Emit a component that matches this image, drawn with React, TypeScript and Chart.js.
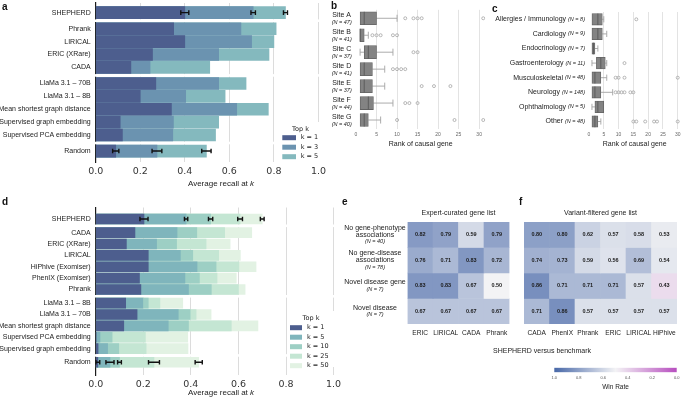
import React, { useEffect, useRef } from 'react';
import { Chart, registerables } from 'chart.js';

Chart.register(...registerables);

const SANS = '"Liberation Sans", Arial, Helvetica, sans-serif';
const DEJA = '"DejaVu Sans", Verdana, sans-serif';
const INK = '#222222';

// ---------------- panel a ----------------
const methodsA = [
  'SHEPHERD', 'Phrank', 'LIRICAL', 'ERIC (XRare)', 'CADA',
  'LlaMa 3.1 – 70B', 'LlaMa 3.1 – 8B', 'Mean shortest graph distance',
  'Supervised graph embedding', 'Supervised PCA embedding', 'Random',
];
const groupsA = [0, 1, 1, 1, 1, 2, 2, 2, 2, 2, 3];
const topKA = ['k = 1', 'k = 3', 'k = 5'];
const recallA1 = [0.40, 0.35, 0.40, 0.255, 0.158, 0.27, 0.20, 0.34, 0.11, 0.12, 0.09];
const recallA3 = [0.707, 0.652, 0.70, 0.552, 0.244, 0.552, 0.404, 0.633, 0.349, 0.346, 0.275];
const recallA5 = [0.852, 0.81, 0.80, 0.778, 0.512, 0.675, 0.581, 0.775, 0.552, 0.538, 0.497];
const errShepherdA = [0.018, 0.01, 0.009];
const errRandomA = [0.014, 0.022, 0.021];
const colorsA = ['#4d5e8e', '#6b93b0', '#84b9be'];

// ---------------- panel d ----------------
const methodsD = [
  'SHEPHERD', 'CADA', 'ERIC (XRare)', 'LIRICAL', 'HiPhive (Exomiser)', 'PhenIX (Exomiser)', 'Phrank',
  'LlaMa 3.1 – 8B', 'LlaMa 3.1 – 70B', 'Mean shortest graph distance',
  'Supervised PCA embedding', 'Supervised graph embedding', 'Random',
];
const groupsD = [0, 1, 1, 1, 1, 1, 1, 2, 2, 2, 2, 2, 3];
const topKD = ['k = 1', 'k = 5', 'k = 10', 'k = 25', 'k = 50'];
const recallD1 = [0.203, 0.165, 0.129, 0.221, 0.221, 0.184, 0.19, 0.126, 0.174, 0.118, 0.002, 0.01, 0.009];
const recallD5 = [0.38, 0.342, 0.256, 0.356, 0.426, 0.375, 0.39, 0.198, 0.347, 0.305, 0.018, 0.05, 0.06];
const recallD10 = [0.483, 0.425, 0.34, 0.408, 0.506, 0.436, 0.486, 0.221, 0.397, 0.39, 0.069, 0.097, 0.10];
const recallD25 = [0.607, 0.542, 0.464, 0.517, 0.602, 0.51, 0.60, 0.27, 0.422, 0.57, 0.209, 0.212, 0.245];
const recallD50 = [0.70, 0.656, 0.565, 0.608, 0.674, 0.591, 0.628, 0.366, 0.485, 0.682, 0.387, 0.388, 0.433];
const errShepherdD = [0.017, 0.007, 0.009, 0.01, 0.008];
const errRandomD = [0.008, 0.017, 0.008, 0.023, 0.015];
const colorsD = ['#4d5e8e', '#7fb5bc', '#9dcfc4', '#c4e6d3', '#e2f2e3'];

// ---------------- panel b ----------------
const sites = ['Site A', 'Site B', 'Site C', 'Site D', 'Site E', 'Site F', 'Site G'];
const siteN = [47, 41, 37, 41, 37, 44, 40];
const siteQ1 = [1, 1, 2, 1, 1, 1, 1];
const siteMed = [2, 1, 3, 2, 2, 3, 2];
const siteQ3 = [5, 2, 5, 4, 4, 4.25, 3];
const siteLo = [1, 1, 1, 1, 1, 1, 1];
const siteHi = [10, 3, 9, 7, 7, 9, 6];
const siteOut = [[12, 14, 15, 16, 31], [4, 5, 6, 9, 10], [14, 15], [9, 10, 11, 12], [16, 19, 23], [12, 13, 15], [10, 24, 31]];

// ---------------- panel c ----------------
const specialties = ['Allergies / Immunology', 'Cardiology', 'Endocrinology', 'Gastroenterology', 'Musculoskeletal', 'Neurology', 'Ophthalmology', 'Other'];
const specN = [8, 9, 7, 11, 48, 148, 5, 48];
const specQ1 = [1, 1, 1, 2.5, 1, 1, 2, 1];
const specMed = [3, 3, 1.5, 4, 2, 2, 3, 2];
const specQ3 = [4.5, 4.5, 2, 5.5, 4, 4, 5, 3];
const specLo = [1, 1, 1, 1, 1, 1, 1, 1];
const specHi = [5, 6, 3, 6, 6, 8, 5, 4];
const specOut = [[16], [], [], [12], [9, 10, 12, 30], [9, 10, 11, 12, 14, 15], [], [15, 16, 19, 22, 23, 30]];

// ---------------- panels e, f ----------------
const heatRowLines = [['No gene-phenotype', 'associations'], ['No gene-disease', 'associations'], ['Novel disease gene'], ['Novel disease']];
const heatRowN = [40, 78, 7, 7];
const colsE = ['ERIC', 'LIRICAL', 'CADA', 'Phrank'];
const winE = [
  [0.82, 0.79, 0.59, 0.79],
  [0.76, 0.71, 0.83, 0.72],
  [0.83, 0.83, 0.67, 0.50],
  [0.67, 0.67, 0.67, 0.67],
];
const colsF = ['CADA', 'PhenIX', 'Phrank', 'ERIC', 'LIRICAL', 'HiPhive'];
const winF = [
  [0.80, 0.80, 0.62, 0.57, 0.58, 0.53],
  [0.74, 0.73, 0.59, 0.56, 0.69, 0.54],
  [0.86, 0.71, 0.71, 0.71, 0.57, 0.43],
  [0.71, 0.86, 0.57, 0.57, 0.57, 0.57],
];
const winRateRange = [0, 1];

// ---------------- helpers ----------------
const WIN_HI = [72, 104, 168];
const WIN_MID = [243, 243, 245];
const WIN_LO = [183, 78, 191];
const rgb = (c: number[]) => `rgb(${c[0]},${c[1]},${c[2]})`;
function mix(a: number[], b: number[], t: number) {
  return rgb([0, 1, 2].map((i) => Math.round(a[i] + (b[i] - a[i]) * t)));
}
function winColor(v: number) {
  return v >= 0.5 ? mix(WIN_MID, WIN_HI, (v - 0.5) / 0.5) : mix(WIN_MID, WIN_LO, (0.5 - v) / 0.5);
}

type Part = { t: string; f: string };
function drawRich(ctx: CanvasRenderingContext2D, parts: Part[], x: number, y: number, align: 'left' | 'center' | 'right') {
  let total = 0;
  const ws = parts.map((p) => {
    ctx.font = p.f;
    const w = ctx.measureText(p.t).width;
    total += w;
    return w;
  });
  let cx = align === 'center' ? x - total / 2 : align === 'right' ? x - total : x;
  ctx.textAlign = 'left';
  ctx.textBaseline = 'middle';
  parts.forEach((p, i) => {
    ctx.font = p.f;
    ctx.fillText(p.t, cx, y);
    cx += ws[i];
  });
}
const f = (size: number, style = 'normal', weight = 'normal', fam = SANS) => `${style} ${weight} ${size}px ${fam}`;

// ---------------- recall charts (a, d) ----------------
function recallChart(canvas: HTMLCanvasElement, c: any) {
  const pos: number[] = c.groups.map((g: number, i: number) => i + g * c.gap);
  const bounds: number[] = [];
  for (let i = 1; i < pos.length; i++) if (c.groups[i] !== c.groups[i - 1]) bounds.push((pos[i] + pos[i - 1]) / 2);
  const datasets = c.series.map((vals: number[], k: number) => ({
    label: c.seriesLabels[k],
    data: vals.map((v: number, i: number) => ({ x: v, y: pos[i] })),
    backgroundColor: c.colors[k],
    borderWidth: 0,
    barThickness: c.barThickness,
    grouped: false,
  }));
  const extras = {
    id: 'recallExtras',
    beforeDatasetsDraw(chart: any) {
      const { ctx, chartArea: ca, scales } = chart;
      ctx.save();
      ctx.fillStyle = '#ffffff';
      bounds.forEach((b) => {
        const py = scales.y.getPixelForValue(b);
        ctx.fillRect(ca.left - 3, py - 1.3, ca.right - ca.left + 4, 2.6);
      });
      ctx.restore();
    },
    afterDatasetsDraw(chart: any) {
      const { ctx, chartArea: ca, scales } = chart;
      const x = scales.x, y = scales.y;
      ctx.save();
      ctx.strokeStyle = '#111111';
      ctx.lineWidth = 1.4;
      c.errRows.forEach((er: any) => {
        const py = y.getPixelForValue(pos[er.row]);
        c.series.forEach((s: number[], k: number) => {
          const v = s[er.row];
          const e = er.err[k];
          const x0 = x.getPixelForValue(v - e);
          const x1 = x.getPixelForValue(v + e);
          ctx.beginPath();
          ctx.moveTo(x0, py); ctx.lineTo(x1, py);
          ctx.moveTo(x0, py - 2.3); ctx.lineTo(x0, py + 2.3);
          ctx.moveTo(x1, py - 2.3); ctx.lineTo(x1, py + 2.3);
          ctx.stroke();
        });
      });
      // category labels
      ctx.fillStyle = INK;
      ctx.font = f(7);
      ctx.textAlign = 'right';
      ctx.textBaseline = 'middle';
      c.methods.forEach((m: string, i: number) => ctx.fillText(m, ca.left - 5, y.getPixelForValue(pos[i])));
      // axis title
      ctx.fillStyle = INK;
      drawRich(ctx, [{ t: 'Average recall at ', f: f(8) }, { t: 'k', f: f(8, 'italic') }], c.titleX, c.titleY, 'center');
      // legend
      const L = c.legend;
      ctx.fillStyle = '#ffffff';
      ctx.fillRect(L.box[0], L.box[1], L.box[2], L.box[3]);
      ctx.fillStyle = INK;
      ctx.font = f(6.5, 'normal', 'normal', DEJA);
      ctx.textAlign = 'center';
      ctx.fillText('Top k', L.titleX, L.titleY);
      c.seriesLabels.forEach((lab: string, k: number) => {
        const yy = L.y0 + k * L.dy;
        ctx.fillStyle = c.colors[k];
        ctx.fillRect(L.swX, yy - L.swH / 2, L.swW, L.swH);
        ctx.fillStyle = INK;
        ctx.textAlign = 'left';
        ctx.fillText(lab, L.textX, yy);
      });
      ctx.restore();
    },
  };
  return new Chart(canvas, {
    type: 'bar',
    data: { datasets },
    options: {
      indexAxis: 'y',
      animation: false,
      responsive: false,
      maintainAspectRatio: false,
      events: [],
      layout: { padding: { left: 0, top: c.padTop, right: c.padRight, bottom: 0 } },
      plugins: { legend: { display: false }, tooltip: { enabled: false } },
      scales: {
        x: {
          type: 'linear', min: 0, max: 1, offset: false, position: 'bottom',
          ticks: { stepSize: 0.2, padding: c.tickPad, color: '#333333', font: { family: DEJA, size: 9.5 }, callback: (v: any) => Number(v).toFixed(1) },
          grid: { color: (ctx: any) => (ctx.tick && ctx.tick.value === 0 ? 'rgba(0,0,0,0)' : '#dcdcdc'), lineWidth: 1, drawTicks: false, offset: false },
          border: { display: false },
          afterFit: (s: any) => { s.height = c.height - c.chartBottom; },
        },
        y: {
          type: 'linear', min: c.yMin, max: c.yMax, reverse: true, offset: false,
          ticks: { display: false },
          grid: { display: false, drawTicks: false, offset: false },
          border: { display: true, color: '#1b1b1b', width: 1.2 },
          afterFit: (s: any) => { s.width = c.yWidth; },
        },
      },
    } as any,
    plugins: [extras as any],
  });
}

// ---------------- box charts (b, c) ----------------
function boxChart(canvas: HTMLCanvasElement, c: any) {
  const half = c.thickness / 2;
  const extras = {
    id: 'boxExtras',
    beforeDatasetsDraw(chart: any) {
      const { ctx, scales } = chart;
      const x = scales.x, y = scales.y;
      ctx.save();
      ctx.strokeStyle = '#a3a3a3';
      ctx.lineWidth = 0.9;
      c.names.forEach((_n: string, i: number) => {
        const py = y.getPixelForValue(i);
        const cap = c.thickness * 0.27;
        const seg = (a: number, b: number, capAt: number) => {
          ctx.beginPath();
          ctx.moveTo(x.getPixelForValue(a), py); ctx.lineTo(x.getPixelForValue(b), py);
          const cx = x.getPixelForValue(capAt);
          ctx.moveTo(cx, py - cap); ctx.lineTo(cx, py + cap);
          ctx.stroke();
        };
        if (c.lo[i] < c.q1[i]) seg(c.lo[i], c.q1[i], c.lo[i]);
        if (c.hi[i] > c.q3[i]) seg(c.q3[i], c.hi[i], c.hi[i]);
      });
      ctx.restore();
    },
    afterDatasetsDraw(chart: any) {
      const { ctx, scales } = chart;
      const x = scales.x, y = scales.y;
      ctx.save();
      ctx.strokeStyle = '#5c5c5c';
      ctx.lineWidth = 1;
      c.names.forEach((_n: string, i: number) => {
        const py = y.getPixelForValue(i);
        const mx = x.getPixelForValue(c.med[i]);
        ctx.beginPath(); ctx.moveTo(mx, py - half); ctx.lineTo(mx, py + half); ctx.stroke();
      });
      ctx.restore();
    },
    afterDraw(chart: any) {
      const { ctx, chartArea: ca, scales } = chart;
      const y = scales.y;
      ctx.save();
      ctx.fillStyle = INK;
      c.names.forEach((n: string, i: number) => {
        const py = y.getPixelForValue(i);
        if (c.twoLine) {
          ctx.font = f(7);
          ctx.textAlign = 'center';
          ctx.textBaseline = 'middle';
          ctx.fillText(n, c.labelX, py - 3.4);
          drawRich(ctx, [{ t: `(N = ${c.ns[i]})`, f: f(5.5, 'italic') }], c.labelX, py + 4.6, 'center');
        } else {
          drawRich(ctx, [{ t: n + ' ', f: f(7) }, { t: `(N = ${c.ns[i]})`, f: f(5.5, 'italic') }], c.labelX, py, 'right');
        }
      });
      drawRich(ctx, [{ t: 'Rank of causal gene', f: f(7) }], (ca.left + ca.right) / 2, c.titleY, 'center');
      ctx.restore();
    },
  };
  const outliers: any[] = [];
  c.out.forEach((arr: number[], i: number) => arr.forEach((v) => outliers.push({ x: v, y: c.names[i] })));
  return new Chart(canvas, {
    type: 'bar',
    data: {
      labels: c.names,
      datasets: [
        {
          type: 'bar',
          data: c.q1.map((a: number, i: number) => [a, c.q3[i]]),
          backgroundColor: '#838383',
          borderColor: '#626262',
          borderWidth: 0.8,
          borderSkipped: false,
          barThickness: c.thickness,
          grouped: false,
        },
        {
          type: 'scatter',
          data: outliers,
          pointRadius: 1.5,
          pointBorderWidth: 0.7,
          borderColor: '#9b9b9b',
          backgroundColor: 'rgba(0,0,0,0)',
          pointBackgroundColor: 'rgba(0,0,0,0)',
          pointBorderColor: '#9b9b9b',
        },
      ],
    } as any,
    options: {
      indexAxis: 'y',
      animation: false,
      responsive: false,
      maintainAspectRatio: false,
      events: [],
      layout: { padding: { left: 0, top: c.padTop, right: c.padRight, bottom: 0 } },
      plugins: { legend: { display: false }, tooltip: { enabled: false } },
      scales: {
        x: {
          type: 'linear', min: 0, max: c.xMax, offset: false,
          ticks: { stepSize: 5, includeBounds: false, padding: 3, color: '#666666', font: { family: SANS, size: 5 }, callback: (v: any) => String(v) },
          grid: { color: (ctx: any) => (ctx.tick && ctx.tick.value === 0 ? 'rgba(0,0,0,0)' : '#e3e3e3'), drawTicks: false, offset: false },
          border: { display: false },
          afterFit: (s: any) => { s.height = c.xHeight; },
        },
        y: {
          type: 'category', offset: true,
          ticks: { display: false },
          grid: { display: false, drawTicks: false },
          border: { display: false },
          afterFit: (s: any) => { s.width = c.yWidth; },
        },
      },
    } as any,
    plugins: [extras as any],
  });
}

// ---------------- heatmaps (e, f) ----------------
function heatChart(canvas: HTMLCanvasElement, c: any) {
  const datasets = c.values.map((row: number[], r: number) => ({
    data: c.cols.map(() => [r, r + 1]),
    backgroundColor: row.map(winColor),
    borderWidth: 0,
    barPercentage: 1,
    categoryPercentage: 1,
    grouped: false,
  }));
  const extras = {
    id: 'heatExtras',
    afterDatasetsDraw(chart: any) {
      const { ctx } = chart;
      ctx.save();
      ctx.fillStyle = '#1c1c1c';
      ctx.font = f(5.5, 'normal', 'bold');
      ctx.textAlign = 'center';
      ctx.textBaseline = 'middle';
      c.values.forEach((row: number[], r: number) => {
        const meta = chart.getDatasetMeta(r);
        row.forEach((v, j) => {
          const el = meta.data[j];
          ctx.fillText(v.toFixed(2), el.x, (el.y + el.base) / 2);
        });
      });
      ctx.restore();
    },
    afterDraw(chart: any) {
      const { ctx, chartArea: ca, scales } = chart;
      ctx.save();
      ctx.fillStyle = INK;
      drawRich(ctx, [{ t: c.title, f: f(7) }], (ca.left + ca.right) / 2, ca.top - 9, 'center');
      if (c.rowLines) {
        c.rowLines.forEach((lines: string[], r: number) => {
          const py = (scales.y.getPixelForValue(r) + scales.y.getPixelForValue(r + 1)) / 2;
          const n = lines.length + 1;
          const lh = 6.8;
          const top = py - ((n - 1) * lh) / 2;
          lines.forEach((ln, k) => drawRich(ctx, [{ t: ln, f: f(7) }], c.rowLabelX, top + k * lh, 'center'));
          drawRich(ctx, [{ t: `(N = ${c.rowN[r]})`, f: f(5.5, 'italic') }], c.rowLabelX, top + lines.length * lh + 0.3, 'center');
        });
      }
      ctx.restore();
    },
  };
  return new Chart(canvas, {
    type: 'bar',
    data: { labels: c.cols, datasets },
    options: {
      indexAxis: 'x',
      animation: false,
      responsive: false,
      maintainAspectRatio: false,
      events: [],
      layout: { padding: { left: c.padLeft, top: c.padTop, right: c.padRight, bottom: 0 } },
      plugins: { legend: { display: false }, tooltip: { enabled: false } },
      scales: {
        x: {
          type: 'category', offset: true,
          grid: { display: false, drawTicks: false },
          border: { display: false },
          ticks: { color: INK, font: { family: SANS, size: 6.6 }, padding: 5.5, maxRotation: 0, minRotation: 0, autoSkip: false },
          afterFit: (s: any) => { s.height = c.xHeight; },
        },
        y: { type: 'linear', min: 0, max: c.values.length, reverse: true, display: false },
      },
    } as any,
    plugins: [extras as any],
  });
}

function colorbarChart(canvas: HTMLCanvasElement, c: any) {
  const extras = {
    id: 'cbExtras',
    afterDraw(chart: any) {
      const { ctx, chartArea: ca } = chart;
      ctx.save();
      ctx.fillStyle = INK;
      drawRich(ctx, [{ t: 'Win Rate', f: f(6.5) }], (ca.left + ca.right) / 2, c.titleY, 'center');
      ctx.restore();
    },
  };
  return new Chart(canvas, {
    type: 'bar',
    data: {
      labels: [''],
      datasets: [{
        data: [[winRateRange[0], winRateRange[1]]],
        backgroundColor: (ctx: any) => {
          const ch = ctx.chart;
          const ca = ch.chartArea;
          if (!ca) return rgb(WIN_MID);
          const g = ch.ctx.createLinearGradient(ca.left, 0, ca.right, 0);
          g.addColorStop(0, rgb(WIN_HI));
          g.addColorStop(0.5, rgb(WIN_MID));
          g.addColorStop(1, rgb(WIN_LO));
          return g;
        },
        borderWidth: 0,
        barPercentage: 1,
        categoryPercentage: 1,
      }],
    } as any,
    options: {
      indexAxis: 'y',
      animation: false,
      responsive: false,
      maintainAspectRatio: false,
      events: [],
      layout: { padding: { left: c.padLeft, top: c.padTop, right: c.padRight, bottom: 0 } },
      plugins: { legend: { display: false }, tooltip: { enabled: false } },
      scales: {
        x: {
          type: 'linear', min: winRateRange[0], max: winRateRange[1], reverse: true, offset: false,
          ticks: { stepSize: 0.2, padding: 3.6, color: '#555555', font: { family: SANS, size: 4 }, callback: (v: any) => Number(v).toFixed(1), maxRotation: 0 },
          grid: { display: false, drawTicks: false },
          border: { display: false },
          afterFit: (s: any) => { s.height = c.xHeight; },
        },
        y: { type: 'category', display: false },
      },
    } as any,
    plugins: [extras as any],
  });
}

// ---------------- layout ----------------
const box = (l: number, t: number, w: number, h: number) => ({ l, t, w, h });
const LAY = {
  a: box(0, 0, 330, 192),
  d: box(0, 195, 345, 202),
  b: box(330, 0, 160, 155),
  c: box(490, 0, 195, 155),
  e: box(330, 195, 185, 150),
  f: box(515, 195, 170, 150),
  cb: box(540, 355, 145, 42),
};

export default function App() {
  const ra = useRef<HTMLCanvasElement>(null);
  const rb = useRef<HTMLCanvasElement>(null);
  const rc = useRef<HTMLCanvasElement>(null);
  const rd = useRef<HTMLCanvasElement>(null);
  const re = useRef<HTMLCanvasElement>(null);
  const rf = useRef<HTMLCanvasElement>(null);
  const rcb = useRef<HTMLCanvasElement>(null);

  useEffect(() => {
    const charts: Chart[] = [];
    charts.push(recallChart(ra.current!, {
      methods: methodsA, groups: groupsA, gap: 0.25,
      series: [recallA1, recallA3, recallA5], seriesLabels: topKA, colors: colorsA,
      errRows: [{ row: 0, err: errShepherdA }, { row: methodsA.length - 1, err: errRandomA }],
      yMin: -0.75, yMax: 11.6, barThickness: 12,
      height: LAY.a.h, padTop: 3, padRight: 8.5, yWidth: 95.7, chartBottom: 162, tickPad: 4,
      titleX: 221, titleY: 183.5,
      legend: { box: [279, 122, 45, 41], titleX: 300.5, titleY: 129.3, y0: 137.7, dy: 9.5, swX: 282.3, swW: 13.7, swH: 5, textX: 300.7 },
    }));
    charts.push(recallChart(rd.current!, {
      methods: methodsD, groups: groupsD, gap: 0.2,
      series: [recallD1, recallD5, recallD10, recallD25, recallD50], seriesLabels: topKD, colors: colorsD,
      errRows: [{ row: 0, err: errShepherdD }, { row: methodsD.length - 1, err: errRandomD }],
      yMin: -1.01, yMax: 13.72, barThickness: 10,
      height: LAY.d.h, padTop: 12.5, padRight: 11.4, yWidth: 95.7, chartBottom: 180, tickPad: 3.5,
      titleX: 221, titleY: 197.7,
      legend: { box: [288, 116, 52, 56], titleX: 311, titleY: 123.5, y0: 132.7, dy: 9.5, swX: 290, swW: 12, swH: 5, textX: 307 },
    }));
    charts.push(boxChart(rb.current!, {
      names: sites, ns: siteN, q1: siteQ1, med: siteMed, q3: siteQ3, lo: siteLo, hi: siteHi, out: siteOut,
      twoLine: true, labelX: 11.7, xMax: 31.5, thickness: 13,
      padTop: 9.8, padRight: 3, yWidth: 26, xHeight: 26.5, titleY: 144,
    }));
    charts.push(boxChart(rc.current!, {
      names: specialties, ns: specN, q1: specQ1, med: specMed, q3: specQ3, lo: specLo, hi: specHi, out: specOut,
      twoLine: false, labelX: 95, xMax: 30.87, thickness: 11.5,
      padTop: 12, padRight: 0, yWidth: 99, xHeight: 26.2, titleY: 144,
    }));
    charts.push(heatChart(re.current!, {
      cols: colsE, values: winE, title: 'Expert-curated gene list',
      rowLines: heatRowLines, rowN: heatRowN, rowLabelX: 45,
      padLeft: 77.5, padRight: 5.5, padTop: 27, xHeight: 21,
    }));
    charts.push(heatChart(rf.current!, {
      cols: colsF, values: winF, title: 'Variant-filtered gene list',
      padLeft: 9, padRight: 8, padTop: 27, xHeight: 21,
    }));
    charts.push(colorbarChart(rcb.current!, { padLeft: 14.3, padRight: 8.3, padTop: 12.7, xHeight: 24.7, titleY: 32.3 }));
    return () => charts.forEach((ch) => ch.destroy());
  }, []);

  const cv = (ref: any, b: any) => (
    <canvas ref={ref} width={b.w} height={b.h} style={{ position: 'absolute', left: b.l, top: b.t, width: b.w, height: b.h }} />
  );
  const letter = (s: string, l: number, t: number) => (
    <div style={{ position: 'absolute', left: l, top: t, font: `bold 10px ${SANS}`, color: '#111', lineHeight: '10px' }}>{s}</div>
  );

  return (
    <div style={{ position: 'absolute', left: 0, top: 0, width: 685, height: 397, background: '#ffffff', overflow: 'hidden' }}>
      {cv(ra, LAY.a)}
      {cv(rd, LAY.d)}
      {cv(rb, LAY.b)}
      {cv(rc, LAY.c)}
      {cv(re, LAY.e)}
      {cv(rf, LAY.f)}
      {cv(rcb, LAY.cb)}
      <div style={{ position: 'absolute', left: 542, top: 350, transform: 'translate(-50%, -50%)', font: `7px ${SANS}`, color: INK, whiteSpace: 'nowrap' }}>
        SHEPHERD versus benchmark
      </div>
      {letter('a', 2, 2)}
      {letter('b', 331, 1)}
      {letter('c', 492, 4)}
      {letter('d', 2, 197)}
      {letter('e', 342, 197)}
      {letter('f', 519, 197)}
    </div>
  );
}
